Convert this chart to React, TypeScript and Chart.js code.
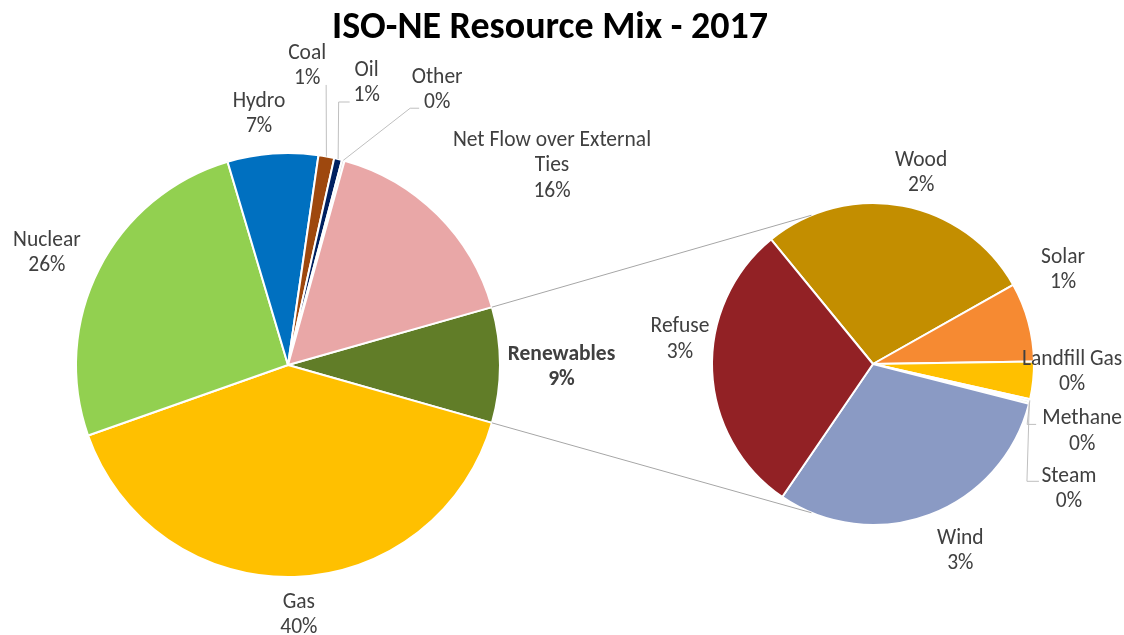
import React, { useEffect, useRef } from "react";
import { Chart, registerables } from "chart.js";

Chart.register(...registerables);

// ---------- data ----------
const TITLE = "ISO-NE Resource Mix - 2017";

const mainLabels: string[][] = [
  ["Renewables"],
  ["Gas"],
  ["Nuclear"],
  ["Hydro"],
  ["Coal"],
  ["Oil"],
  ["Other"],
  ["Net Flow over External", "Ties"],
];
const mainValues = [8.8, 40.2, 25.8, 6.9, 1.2, 0.6, 0.2, 16.3];
const mainColors = ["#617D28", "#FFC000", "#92D050", "#0070C0", "#9E480E", "#002060", "#D9D9D9", "#E9A7A7"];

const subLabels: string[][] = [["Wood"], ["Solar"], ["Landfill Gas"], ["Methane"], ["Steam"], ["Wind"], ["Refuse"]];
const subValues = [2.44, 0.7, 0.33, 0.02, 0.02, 2.69, 2.6];
const subColors = ["#C38E00", "#F68A32", "#FFC000", "#9DC3E6", "#A9D18E", "#8A9AC4", "#922125"];

// ---------- label placement (polar: radius factor, angle nudge in degrees) ----------
const mainLabelR = [1.29, 1.172, 1.258, 1.2, 1.423, 1.39, 1.483, 1.565];
const mainLabelDA = [0, -0.7, -1.7, -2.4, -6.8, 1.8, 13.2, 7.9];
const mainBold = [true, false, false, false, false, false, false, false];
// leader lines: [anchor dx, anchor dy, elbow length] relative to the label centre, or null
const mainLeaders: (number[] | null)[] = [null, null, null, null, [19, 21, 0], [-17, 21, 11], [-18, 20, 9], null];

const subLabelR = [1.235, 1.322, 1.237, 1.361, 1.438, 1.27, 1.21];
const subLabelDA = [3.4, -11.6, -4.2, 4.3, 18.3, -4.6, 10.3];
const subLeaders: (number[] | null)[] = [null, null, null, [-46, -5, 9], [-30, -6, 12], null, null];

const W = 1124;
const H = 635;
const FONT = "Carlito, Calibri, Lato, 'Open Sans', sans-serif";
const TEXT_COLOR = "#404040";
const LABEL_SIZE = 21.5;
const TITLE_SIZE = 38;
const LINE_H = 25.5;
const TEXT_SHIFT = 2;
const CONNECTOR_SPREAD = 67.5;

function pct(v: number) {
  return Math.round(v) + "%";
}

function drawLabels(
  chart: any,
  labels: string[][],
  values: number[],
  rf: number[],
  da: number[],
  leaders: (number[] | null)[],
  bold?: boolean[]
) {
  const ctx = chart.ctx as CanvasRenderingContext2D;
  const meta = chart.getDatasetMeta(0);
  ctx.save();
  meta.data.forEach((arc: any, i: number) => {
    const { x, y, startAngle, endAngle, outerRadius } = arc.getProps(
      ["x", "y", "startAngle", "endAngle", "outerRadius"],
      true
    );
    const mid = (startAngle + endAngle) / 2;
    const a = mid + (da[i] * Math.PI) / 180;
    const r = outerRadius * rf[i];
    const cx = x + r * Math.cos(a);
    const cy = y + r * Math.sin(a);
    const lines = [...labels[i], pct(values[i])];
    const lead = leaders[i];
    if (lead) {
      const px = x + outerRadius * Math.cos(mid);
      const py = y + outerRadius * Math.sin(mid);
      const ax = cx + lead[0];
      const ay = cy + lead[1];
      ctx.strokeStyle = "#BFBFBF";
      ctx.lineWidth = 1;
      ctx.beginPath();
      ctx.moveTo(px, py);
      ctx.lineTo(lead[0] < 0 ? ax - lead[2] : ax, ay);
      ctx.lineTo(ax, ay);
      ctx.stroke();
    }
    ctx.fillStyle = TEXT_COLOR;
    ctx.font = `${bold && bold[i] ? "bold " : ""}${LABEL_SIZE}px ${FONT}`;
    ctx.textAlign = "center";
    ctx.textBaseline = "middle";
    const n = lines.length;
    lines.forEach((t, k) => {
      ctx.fillText(t, cx, cy + TEXT_SHIFT + (k - (n - 1) / 2) * LINE_H);
    });
  });
  ctx.restore();
}

export default function App() {
  const mainRef = useRef<HTMLCanvasElement | null>(null);
  const subRef = useRef<HTMLCanvasElement | null>(null);

  useEffect(() => {
    if (!mainRef.current || !subRef.current) return;

    const mainPlugin = {
      id: "mainDecor",
      afterDraw(chart: any) {
        const ctx = chart.ctx as CanvasRenderingContext2D;
        ctx.save();
        ctx.fillStyle = "#000000";
        ctx.font = `bold ${TITLE_SIZE}px ${FONT}`;
        ctx.textAlign = "center";
        ctx.textBaseline = "middle";
        ctx.fillText(TITLE, 550, 28);
        ctx.restore();
        drawLabels(chart, mainLabels, mainValues, mainLabelR, mainLabelDA, mainLeaders, mainBold);
      },
    };

    const renewDeg = (mainValues[0] / mainValues.reduce((s, v) => s + v, 0)) * 360;

    const main = new Chart(mainRef.current, {
      type: "pie",
      data: {
        labels: mainLabels.map((l) => l.join(" ")),
        datasets: [
          {
            data: mainValues,
            backgroundColor: mainColors,
            borderColor: "#FFFFFF",
            borderWidth: 2,
          },
        ],
      },
      options: {
        animation: false,
        responsive: false,
        radius: 212,
        rotation: 90 - renewDeg / 2,
        layout: { padding: { left: 0, right: W - 576, top: 95, bottom: 0 } },
        plugins: { legend: { display: false }, tooltip: { enabled: false }, title: { display: false } },
        events: [],
      } as any,
      plugins: [mainPlugin],
    });

    const subPlugin = {
      id: "subDecor",
      afterDraw(chart: any) {
        const ctx = chart.ctx as CanvasRenderingContext2D;
        const mArc: any = main.getDatasetMeta(0).data[0];
        const m = mArc.getProps(["x", "y", "startAngle", "endAngle", "outerRadius"], true);
        const sArc: any = chart.getDatasetMeta(0).data[0];
        const s = sArc.getProps(["x", "y", "outerRadius"], true);
        const top = Math.PI + (CONNECTOR_SPREAD * Math.PI) / 180;
        const bot = Math.PI - (CONNECTOR_SPREAD * Math.PI) / 180;
        ctx.save();
        ctx.strokeStyle = "#A6A6A6";
        ctx.lineWidth = 1;
        ctx.beginPath();
        ctx.moveTo(m.x + m.outerRadius * Math.cos(m.startAngle), m.y + m.outerRadius * Math.sin(m.startAngle));
        ctx.lineTo(s.x + s.outerRadius * Math.cos(top), s.y + s.outerRadius * Math.sin(top));
        ctx.moveTo(m.x + m.outerRadius * Math.cos(m.endAngle), m.y + m.outerRadius * Math.sin(m.endAngle));
        ctx.lineTo(s.x + s.outerRadius * Math.cos(bot), s.y + s.outerRadius * Math.sin(bot));
        ctx.stroke();
        ctx.restore();
        drawLabels(chart, subLabels, subValues, subLabelR, subLabelDA, subLeaders);
      },
    };

    const sub = new Chart(subRef.current, {
      type: "pie",
      data: {
        labels: subLabels.map((l) => l.join(" ")),
        datasets: [
          {
            data: subValues,
            backgroundColor: subColors,
            borderColor: "#FFFFFF",
            borderWidth: 2,
          },
        ],
      },
      options: {
        animation: false,
        responsive: false,
        radius: 161,
        rotation: 230.7 + 90,
        layout: { padding: { left: 873 * 2 - W, right: 0, top: 364 * 2 - H, bottom: 0 } },
        plugins: { legend: { display: false }, tooltip: { enabled: false }, title: { display: false } },
        events: [],
      } as any,
      plugins: [subPlugin],
    });

    return () => {
      sub.destroy();
      main.destroy();
    };
  }, []);

  return (
    <div style={{ position: "fixed", left: 0, top: 0, width: W, height: H, background: "#FFFFFF" }}>
      <canvas ref={mainRef} width={W} height={H} style={{ position: "absolute", left: 0, top: 0, width: W, height: H }} />
      <canvas
        ref={subRef}
        width={W}
        height={H}
        style={{ position: "absolute", left: 0, top: 0, width: W, height: H, pointerEvents: "none" }}
      />
    </div>
  );
}
